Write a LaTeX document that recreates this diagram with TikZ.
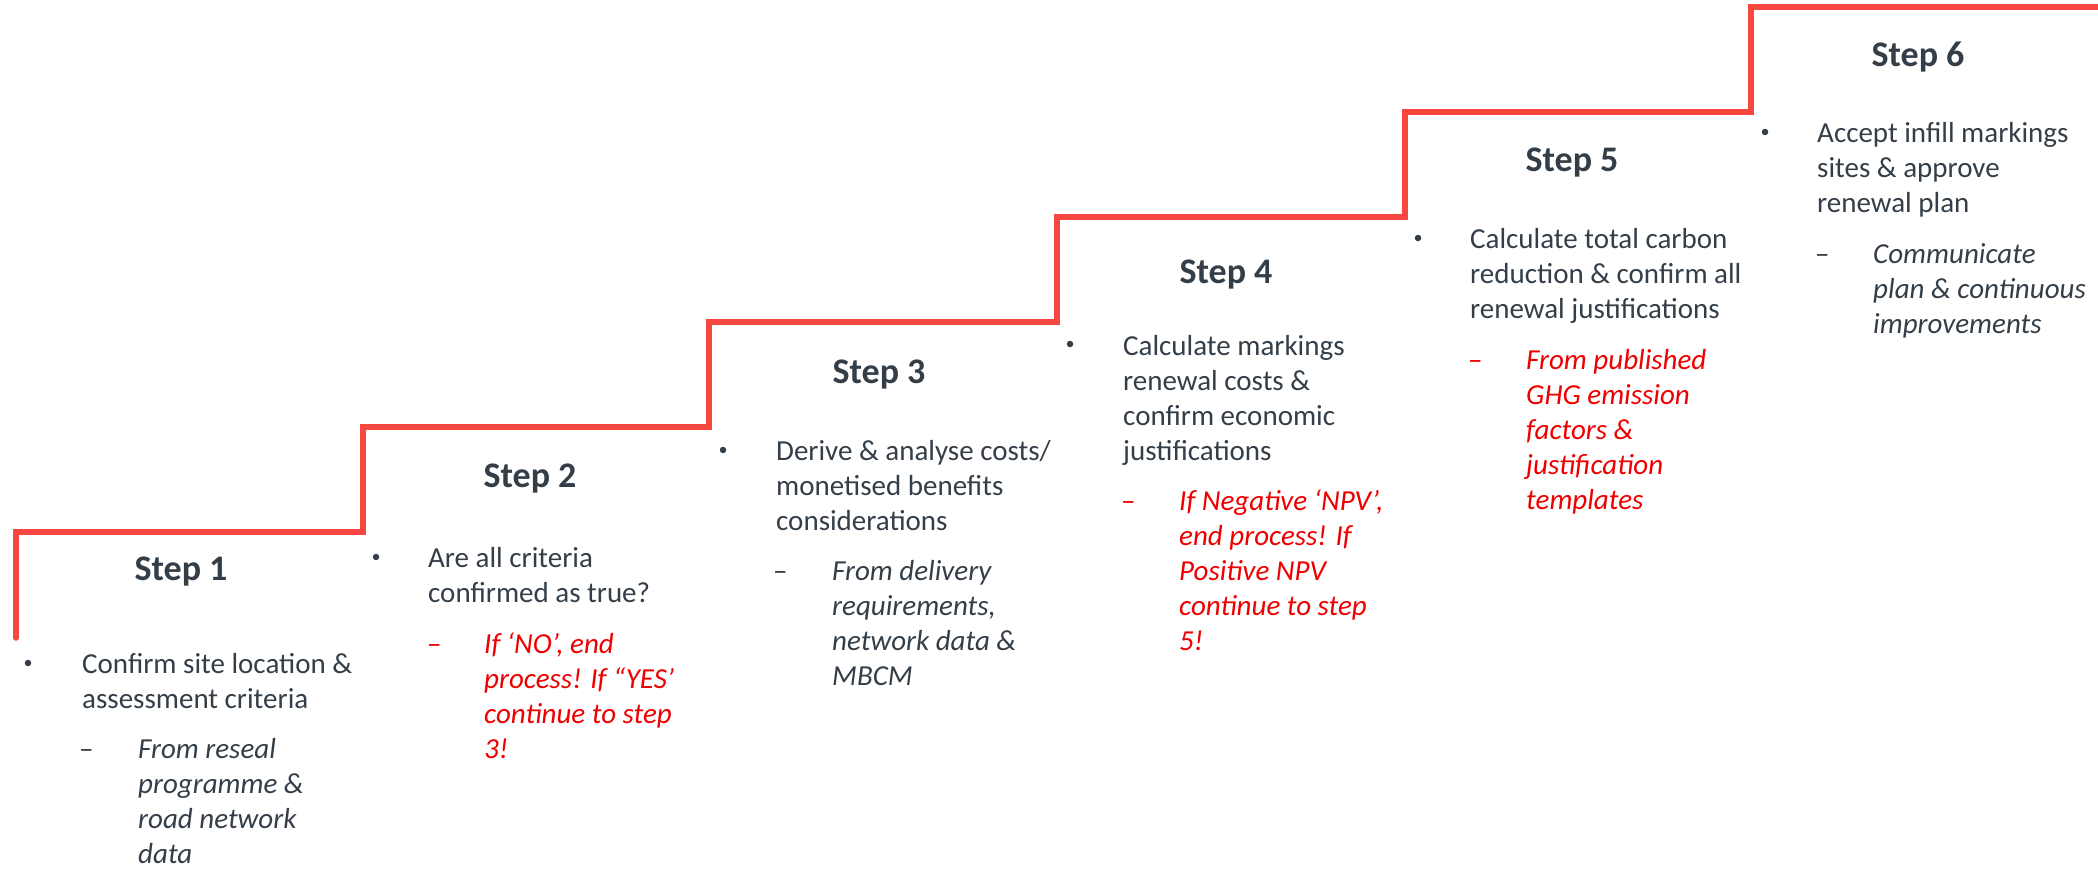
\documentclass[tikz,border=0pt]{standalone}
\usepackage{fontspec}
\setmainfont{Carlito}
\definecolor{stair}{RGB}{246,72,64}
\definecolor{slate}{RGB}{52,62,72}
\definecolor{redtxt}{RGB}{238,0,0}
\newcommand\bodyfnt{\fontsize{29}{35}\selectfont}
\newcommand\headfnt{\fontsize{36}{43}\selectfont\bfseries}
\tikzset{
  head/.style={font=\headfnt, text=slate, anchor=base, inner sep=0pt},
  body/.style={font=\bodyfnt, text=slate, align=left, anchor=north west, inner sep=0pt},
  sub/.style={body, font=\bodyfnt\itshape},
  subred/.style={sub, text=redtxt},
  dot/.style={circle, fill=slate, inner sep=0pt, minimum size=6.5pt},
  dashmark/.style={font=\bodyfnt, text=slate, anchor=base west, inner sep=0pt},
  dashred/.style={dashmark, text=redtxt},
  stairline/.style={draw=stair, line width=5.5pt, line join=miter, line cap=round},
}
\begin{document}
\begin{tikzpicture}[x=1pt,y=-1pt]
\useasboundingbox (0,0) rectangle (2098,868);
% staircase
\coordinate (s0) at (16,638);
\coordinate (s1) at (16,532);
\coordinate (s2) at (363,532);
\coordinate (s3) at (363,427);
\coordinate (s4) at (709,427);
\coordinate (s5) at (709,322);
\coordinate (s6) at (1057,322);
\coordinate (s7) at (1057,217);
\coordinate (s8) at (1405,217);
\coordinate (s9) at (1405,112);
\coordinate (s10) at (1751,112);
\coordinate (s11) at (1751,7);
\coordinate (s12) at (2110,7);
\draw[stairline] (s0) -- (s1) -- (s2) -- (s3) -- (s4) -- (s5) -- (s6) -- (s7) -- (s8) -- (s9) -- (s10) -- (s11) -- (s12);

% Step 1
\node[head] (h1) at (181,580) {Step 1};
\node[dot] (b1) at (28,663) {};
\node[body] (t1) at (82,648.5) {\strut Confirm site location \&\\assessment criteria};
\node[dashmark] (d1) at (79,758) {–};
\node[sub] (u1) at (138,733.5) {\strut From reseal\\programme \&\\road network\\data};

% Step 2
\node[head] (h2) at (530,487) {Step 2};
\node[dot] (b2) at (376,557) {};
\node[body] (t2) at (428,542.5) {\strut Are all criteria\\confirmed as true?};
\node[dashred] (d2) at (427,653) {–};
\node[subred] (u2) at (484,628.5) {\strut If ‘NO’, end\\process! If “YES’\\continue to step\\3!};

% Step 3
\node[head] (h3) at (879,383) {Step 3};
\node[dot] (b3) at (723,450) {};
\node[body] (t3) at (776,435.5) {\strut Derive \& analyse costs/\\monetised benefits\\considerations};
\node[dashmark] (d3) at (773,580) {–};
\node[sub] (u3) at (832,555.5) {\strut From delivery\\requirements,\\network data \&\\MBCM};

% Step 4
\node[head] (h4) at (1226,283) {Step 4};
\node[dot] (b4) at (1070,344) {};
\node[body] (t4) at (1123,330.5) {\strut Calculate markings\\renewal costs \&\\confirm economic\\justifications};
\node[dashred] (d4) at (1121,510) {–};
\node[subred] (u4) at (1179,485.5) {\strut If Negative ‘NPV’,\\end process! If\\Positive NPV\\continue to step\\5!};

% Step 5
\node[head] (h5) at (1572,171) {Step 5};
\node[dot] (b5) at (1418,238) {};
\node[body] (t5) at (1470,223.5) {\strut Calculate total carbon\\reduction \& confirm all\\renewal justifications};
\node[dashred] (d5) at (1468,369) {–};
\node[subred] (u5) at (1526,344.5) {\strut From published\\GHG emission\\factors \&\\justification\\templates};

% Step 6
\node[head] (h6) at (1918,66) {Step 6};
\node[dot] (b6) at (1765,132) {};
\node[body] (t6) at (1817,117.5) {\strut Accept infill markings\\sites \& approve\\renewal plan};
\node[dashmark] (d6) at (1815,263) {–};
\node[sub] (u6) at (1873,238.5) {\strut Communicate\\plan \& continuous\\improvements};
\end{tikzpicture}
\end{document}
